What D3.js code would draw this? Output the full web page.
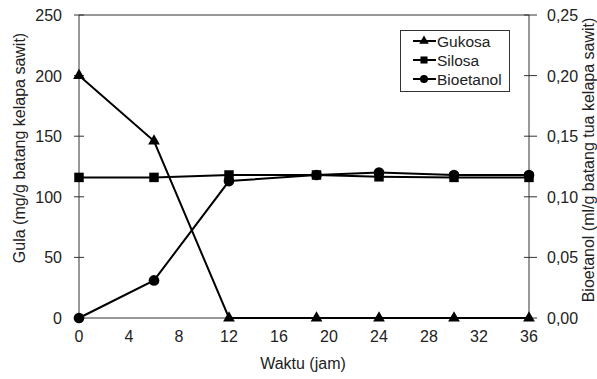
<!DOCTYPE html>
<html>
<head>
<meta charset="utf-8">
<script src="https://cdn.jsdelivr.net/npm/d3@7"></script>
<style>
body { margin: 0; background: #fff; }
text { font-family: "Liberation Sans", Arial, sans-serif; fill: #222; }
</style>
</head>
<body>
<script>
var waktu = [0, 6, 12, 19, 24, 30, 36];
var glukosa = [200, 146, 0, 0, 0, 0, 0];
var silosa = [116, 116, 118, 118, 116.5, 116, 116];
var bioetanol = [0, 0.031, 0.113, 0.118, 0.120, 0.118, 0.118];
var xTicks = [0, 4, 8, 12, 16, 20, 24, 28, 32, 36];
var leftTicks = [0, 50, 100, 150, 200, 250];
var rightTicks = [0, 0.05, 0.10, 0.15, 0.20, 0.25];

var width = 597, height = 379;
var svg = d3.select("body").append("svg")
  .attr("width", width)
  .attr("height", height);

var x = d3.scaleLinear().domain([0, 36]).range([79, 529]);
var yL = d3.scaleLinear().domain([0, 250]).range([318, 15]);
var yR = d3.scaleLinear().domain([0, 0.25]).range([318, 15]);

// top of frame
svg.append("line")
  .attr("x1", 79).attr("x2", 529)
  .attr("y1", yL(250)).attr("y2", yL(250))
  .attr("stroke", "#333");

// x axis
svg.append("line")
  .attr("x1", 79).attr("x2", 529)
  .attr("y1", 318).attr("y2", 318)
  .attr("stroke", "#333");
svg.selectAll(".xl").data(xTicks).enter().append("text")
  .attr("x", d => x(d))
  .attr("y", 342)
  .attr("text-anchor", "middle")
  .attr("font-size", 16)
  .text(d => d);

// left axis
svg.append("line")
  .attr("x1", 79).attr("x2", 79)
  .attr("y1", 15).attr("y2", 318)
  .attr("stroke", "#333");
svg.selectAll(".lt").data(leftTicks).enter().append("line")
  .attr("x1", 74).attr("x2", 84)
  .attr("y1", d => yL(d)).attr("y2", d => yL(d))
  .attr("stroke", "#333");
svg.selectAll(".ll").data(leftTicks).enter().append("text")
  .attr("x", 62)
  .attr("y", d => yL(d) + 6)
  .attr("text-anchor", "end")
  .attr("font-size", 16)
  .text(d => d);

// right axis
svg.append("line")
  .attr("x1", 529).attr("x2", 529)
  .attr("y1", 15).attr("y2", 318)
  .attr("stroke", "#333");
svg.selectAll(".rt").data(rightTicks).enter().append("line")
  .attr("x1", 524).attr("x2", 537)
  .attr("y1", d => yR(d)).attr("y2", d => yR(d))
  .attr("stroke", "#333");
svg.selectAll(".rl").data(rightTicks).enter().append("text")
  .attr("x", 547)
  .attr("y", d => yR(d) + 6)
  .attr("font-size", 16)
  .text(d => d3.format(".2f")(d).replace(".", ","));

// axis titles
svg.append("text")
  .attr("transform", "translate(25,148) rotate(-90)")
  .attr("text-anchor", "middle")
  .attr("font-size", 16)
  .text("Gula (mg/g batang kelapa sawit)");
svg.append("text")
  .attr("transform", "translate(594,160) rotate(-90)")
  .attr("text-anchor", "middle")
  .attr("font-size", 16)
  .text("Bioetanol (ml/g batang tua kelapa sawit)");
svg.append("text")
  .attr("x", 303).attr("y", 369)
  .attr("text-anchor", "middle")
  .attr("font-size", 16)
  .text("Waktu (jam)");

var triangle = d3.symbol().type(d3.symbolTriangle).size(60);
var square = d3.symbol().type(d3.symbolSquare).size(90);
var circle = d3.symbol().type(d3.symbolCircle).size(90);

function drawSeries(vals, yScale, sym) {
  var line = d3.line().x((d, i) => x(waktu[i])).y(d => yScale(d));
  svg.append("path")
    .attr("d", line(vals))
    .attr("fill", "none")
    .attr("stroke", "#000")
    .attr("stroke-width", 2);
  svg.selectAll(null).data(vals).enter().append("path")
    .attr("d", sym)
    .attr("transform", (d, i) => "translate(" + x(waktu[i]) + "," + yScale(d) + ")")
    .attr("fill", "#000");
}

drawSeries(silosa, yL, square);
drawSeries(bioetanol, yR, circle);
drawSeries(glukosa, yL, triangle);

// legend
svg.append("rect")
  .attr("x", 400.5).attr("y", 30.5)
  .attr("width", 109).attr("height", 61)
  .attr("fill", "#fff")
  .attr("stroke", "#333");
var legendItems = [
  {name: "Gukosa", sym: triangle},
  {name: "Silosa", sym: square},
  {name: "Bioetanol", sym: circle}
];
legendItems.forEach(function(it, i) {
  var ly = 41 + i * 19;
  svg.append("line")
    .attr("x1", 413).attr("x2", 436)
    .attr("y1", ly).attr("y2", ly)
    .attr("stroke", "#000").attr("stroke-width", 2);
  svg.append("path")
    .attr("d", it.sym.size(it.sym === triangle ? 40 : 50)())
    .attr("transform", "translate(424," + ly + ")")
    .attr("fill", "#000");
  svg.append("text")
    .attr("x", 437).attr("y", ly + 5.5)
    .attr("font-size", 15.5)
    .text(it.name);
});
</script>
</body>
</html>
